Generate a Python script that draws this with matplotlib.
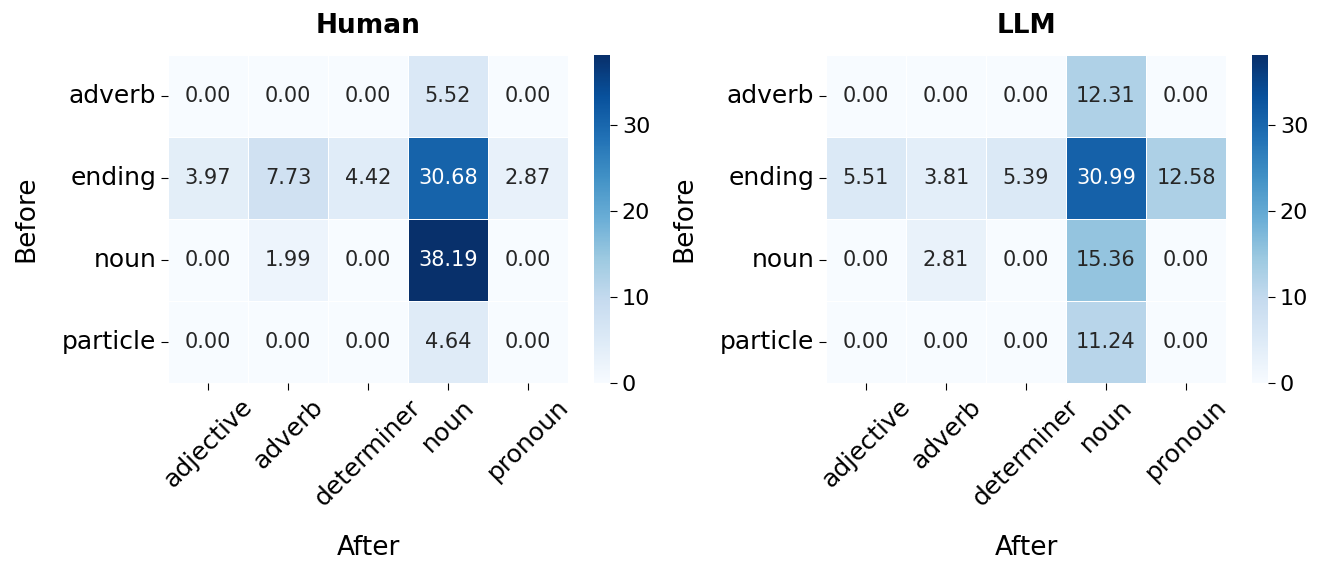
import matplotlib
matplotlib.use("Agg")
import matplotlib.pyplot as plt
import numpy as np
import seaborn as sns

before_labels = ["adverb", "ending", "noun", "particle"]
after_labels = ["adjective", "adverb", "determiner", "noun", "pronoun"]

human_vals = np.array([
    [0.00, 0.00, 0.00, 5.52, 0.00],
    [3.97, 7.73, 4.42, 30.68, 2.87],
    [0.00, 1.99, 0.00, 38.19, 0.00],
    [0.00, 0.00, 0.00, 4.64, 0.00],
])
llm_vals = np.array([
    [0.00, 0.00, 0.00, 12.31, 0.00],
    [5.51, 3.81, 5.39, 30.99, 12.58],
    [0.00, 2.81, 0.00, 15.36, 0.00],
    [0.00, 0.00, 0.00, 11.24, 0.00],
])

vmax = max(human_vals.max(), llm_vals.max())

fig = plt.figure(figsize=(13.41, 5.75), dpi=100)

panels = [
    ("Human", human_vals, 168 / 1341, 594 / 1341),
    ("LLM", llm_vals, 826 / 1341, 1252 / 1341),
]
for title, vals, x0, cx in panels:
    ax = fig.add_axes([x0, 0.334, 400 / 1341, 0.570])
    cax = fig.add_axes([cx, 0.334, 16 / 1341, 0.570])
    sns.heatmap(vals, ax=ax, cbar_ax=cax, cmap="Blues", vmin=0, vmax=vmax,
                annot=True, fmt=".2f", annot_kws={"fontsize": 15},
                linewidths=0.5, linecolor="white",
                xticklabels=after_labels, yticklabels=before_labels)
    ax.set_title(title, fontsize=19, fontweight="bold", pad=16)
    ax.set_xlabel("After", fontsize=19, labelpad=18)
    ax.set_ylabel("Before", fontsize=19, labelpad=16)
    ax.tick_params(axis="both", labelsize=18, length=5)
    plt.setp(ax.get_xticklabels(), rotation=45)
    plt.setp(ax.get_yticklabels(), rotation=0)
    cax.tick_params(labelsize=16, length=5)
    cax.set_yticks([0, 10, 20, 30])

fig.savefig("out.png", dpi=100)
